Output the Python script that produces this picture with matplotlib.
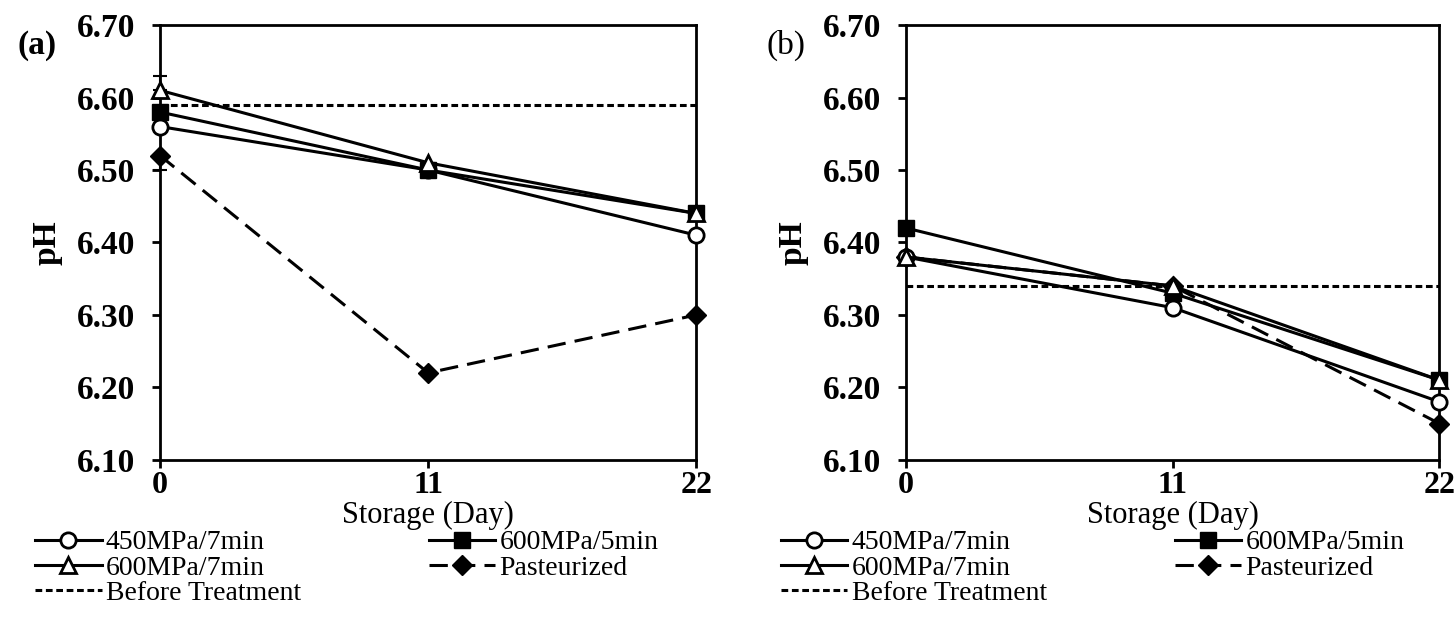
import matplotlib.pyplot as plt
import numpy as np

plt.rcParams['font.family'] = ['Liberation Serif', 'DejaVu Serif']

days = [0, 11, 22]
labels = ['450MPa/7min', '600MPa/5min', '600MPa/7min', 'Pasteurized']

# panel (a)
a_450_7 = [6.56, 6.50, 6.41]
a_600_5 = [6.58, 6.50, 6.44]
a_600_7 = [6.61, 6.51, 6.44]
a_past = [6.52, 6.22, 6.30]
a_before = 6.59
a_err_600_7 = [0.02, 0, 0]
a_err_past = [0.02, 0, 0]

# panel (b)
b_450_7 = [6.38, 6.31, 6.18]
b_600_5 = [6.42, 6.33, 6.21]
b_600_7 = [6.38, 6.34, 6.21]
b_past = [6.38, 6.34, 6.15]
b_before = 6.34

yticks = [6.10, 6.20, 6.30, 6.40, 6.50, 6.60, 6.70]

fig = plt.figure(figsize=(14.54, 6.44), dpi=100)
ax_a = fig.add_axes([0.110, 0.286, 0.369, 0.675])
ax_b = fig.add_axes([0.623, 0.286, 0.367, 0.675])

lw = 2.2
ms = 11


def draw(ax, s450, s600_5, s600_7, past, before, err7=None, errp=None):
    h = []
    h.append(ax.plot(days, s450, '-', color='black', lw=lw, marker='o', ms=ms,
                     mfc='white', mec='black', mew=2, clip_on=False, zorder=4)[0])
    h.append(ax.plot(days, s600_5, '-', color='black', lw=lw, marker='s', ms=ms,
                     mfc='black', mec='black', clip_on=False, zorder=4)[0])
    h.append(ax.plot(days, s600_7, '-', color='black', lw=lw, marker='^', ms=ms + 1,
                     mfc='white', mec='black', mew=2, clip_on=False, zorder=5)[0])
    h.append(ax.plot(days, past, '--', color='black', lw=lw, dashes=(6, 3), marker='D',
                     ms=ms - 1, mfc='black', mec='black', clip_on=False, zorder=3)[0])
    if err7 is not None:
        ax.errorbar(days, s600_7, yerr=[np.zeros(3), err7], fmt='none', ecolor='black',
                    elinewidth=1.5, capsize=5, capthick=1.5, clip_on=False)
    if errp is not None:
        ax.errorbar(days, past, yerr=[errp, np.zeros(3)], fmt='none', ecolor='black',
                    elinewidth=1.5, capsize=5, capthick=1.5, clip_on=False)
    bt = ax.plot([days[0], days[-1]], [before, before], color='black', lw=lw,
                 dashes=(2.2, 1.2), zorder=2)[0]

    ax.set_xlim(0, 22)
    ax.set_ylim(6.10, 6.70)
    ax.set_xticks(days)
    ax.set_xticklabels([str(d) for d in days], fontsize=23, fontweight='bold')
    ax.set_yticks(yticks)
    ax.set_yticklabels(['%.2f' % t for t in yticks], fontsize=24, fontweight='bold')
    ax.tick_params(direction='out', length=6, width=2)
    ax.tick_params(axis='x', pad=2)
    ax.tick_params(axis='y', pad=12)
    for sp in ax.spines.values():
        sp.set_linewidth(2)
    ax.set_xlabel('Storage (Day)', fontsize=22, labelpad=1)
    ax.set_ylabel('pH', fontsize=24, fontweight='bold', labelpad=10)

    handles = [h[0], h[2], bt, h[1], h[3]]
    names = [labels[0], labels[2], 'Before Treatment', labels[1], labels[3]]
    ax.legend(handles, names, ncol=2, loc='center left',
              bbox_to_anchor=(ax.get_position().x0 - 0.086, 0.118),
              bbox_transform=fig.transFigure, frameon=False, fontsize=20,
              handlelength=2.4, handletextpad=0.15, labelspacing=0.0,
              columnspacing=4.6, borderpad=0, borderaxespad=0)


draw(ax_a, a_450_7, a_600_5, a_600_7, a_past, a_before, a_err_600_7, a_err_past)
draw(ax_b, b_450_7, b_600_5, b_600_7, b_past, b_before)

fig.text(0.012, 0.93, '(a)', fontsize=24, fontweight='bold', va='center')
fig.text(0.527, 0.93, '(b)', fontsize=24, va='center')

fig.savefig('out.png', dpi=100)
